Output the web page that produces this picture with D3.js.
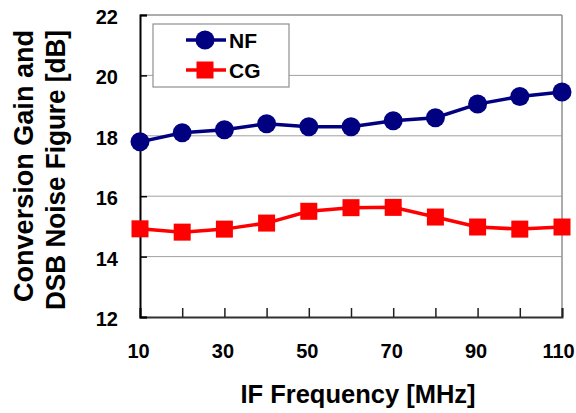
<!DOCTYPE html>
<html>
<head>
<meta charset="utf-8">
<script src="https://cdn.jsdelivr.net/npm/d3@7"></script>
<style>
  body { margin: 0; background: #fff; }
  text { font-family: "Liberation Sans", Arial, sans-serif; font-weight: bold; }
</style>
</head>
<body>
<svg id="chart"></svg>
<script>
let freqs = [10, 20, 30, 40, 50, 60, 70, 80, 90, 100, 110];
let nfValues = [17.8, 18.1, 18.2, 18.4, 18.3, 18.3, 18.5, 18.6, 19.05, 19.3, 19.45];
let cgValues = [14.92, 14.81, 14.91, 15.11, 15.5, 15.62, 15.63, 15.31, 14.98, 14.91, 14.98];
let xTicks = [10, 20, 30, 40, 50, 60, 70, 80, 90, 100, 110];
let xLabels = [10, 30, 50, 70, 90, 110];
let yTicks = [12, 14, 16, 18, 20, 22];

let width = 576, height = 413;
let margin = { top: 15, bottom: 96, left: 140, right: 14 };
let bodyWidth = width - margin.left - margin.right;
let bodyHeight = height - margin.top - margin.bottom;

let svg = d3.select("#chart").attr("width", width).attr("height", height);

let xScale = d3.scaleLinear().domain([10, 110]).range([0, bodyWidth]);
let yScale = d3.scaleLinear().domain([12, 22]).range([bodyHeight, 0]);

let body = svg.append("g")
    .attr("transform", `translate(${margin.left},${margin.top})`);

// gridlines
body.selectAll(".grid")
    .data(yTicks.filter(d => d > 12 && d < 22))
    .enter()
    .append("line")
    .attr("x1", 0).attr("x2", bodyWidth)
    .attr("y1", d => yScale(d)).attr("y2", d => yScale(d))
    .attr("stroke", "#a0a0a0").attr("stroke-width", 1);

// frame top / right
body.append("line").attr("x1", 0).attr("x2", bodyWidth).attr("y1", 0).attr("y2", 0)
    .attr("stroke", "#909090").attr("stroke-width", 1.5);
body.append("line").attr("x1", bodyWidth).attr("x2", bodyWidth).attr("y1", 0).attr("y2", bodyHeight)
    .attr("stroke", "#909090").attr("stroke-width", 1.5);

// x axis, ticks inward
let xAx = d3.axisBottom(xScale).tickValues(xTicks).tickSize(-9)
    .tickFormat(d => xLabels.includes(d) ? d : "").tickPadding(27);
let gx = body.append("g").attr("transform", `translate(0,${bodyHeight})`).call(xAx);
gx.select(".domain").attr("stroke", "#303030").attr("stroke-width", 2);
gx.selectAll(".tick line").attr("stroke", "#202020").attr("stroke-width", 1.5);
gx.selectAll("text").attr("font-size", 20).attr("fill", "#000")
    .attr("dx", d => d === 110 ? -4 : -2);

// y axis, ticks inward
let yAx = d3.axisLeft(yScale).tickValues(yTicks).tickSize(-7).tickPadding(22);
let gy = body.append("g").call(yAx);
gy.select(".domain").attr("stroke", "#000").attr("stroke-width", 2);
gy.selectAll(".tick line").attr("stroke", "#000").attr("stroke-width", 1.5);
gy.selectAll("text").attr("font-size", 20).attr("fill", "#000").attr("dy", "0.42em");

let line = d3.line()
    .x((d, i) => xScale(freqs[i]))
    .y(d => yScale(d));

// NF series
body.append("path").datum(nfValues)
    .attr("d", line).attr("fill", "none")
    .attr("stroke", "#000080").attr("stroke-width", 3.5);
body.selectAll(".nf").data(nfValues).enter()
    .append("circle")
    .attr("cx", (d, i) => xScale(freqs[i]))
    .attr("cy", d => yScale(d))
    .attr("r", 9.5)
    .attr("fill", "#000080");

// CG series
body.append("path").datum(cgValues)
    .attr("d", line).attr("fill", "none")
    .attr("stroke", "#ff0000").attr("stroke-width", 3.5);
let sq = 17;
body.selectAll(".cg").data(cgValues).enter()
    .append("rect")
    .attr("x", (d, i) => xScale(freqs[i]) - sq / 2)
    .attr("y", d => yScale(d) - sq / 2)
    .attr("width", sq).attr("height", sq)
    .attr("fill", "#ff0000");

// legend
let legend = svg.append("g").attr("transform", "translate(153,24)");
legend.append("rect").attr("width", 136).attr("height", 63)
    .attr("fill", "#fff").attr("stroke", "#909090").attr("stroke-width", 1.2);
let items = [
    { name: "NF", color: "#000080", shape: "circle", y: 16 },
    { name: "CG", color: "#ff0000", shape: "rect", y: 46 }
];
items.forEach(it => {
    legend.append("line").attr("x1", 33).attr("x2", 73)
        .attr("y1", it.y).attr("y2", it.y)
        .attr("stroke", it.color).attr("stroke-width", 3.5);
    if (it.shape === "circle") {
        legend.append("circle").attr("cx", 52).attr("cy", it.y).attr("r", 9.5).attr("fill", it.color);
    } else {
        legend.append("rect").attr("x", 52 - sq / 2).attr("y", it.y - sq / 2)
            .attr("width", sq).attr("height", sq).attr("fill", it.color);
    }
    legend.append("text").attr("x", 76).attr("y", it.y + 8)
        .attr("font-size", 21).text(it.name);
});

// axis titles
svg.append("text")
    .attr("x", 358).attr("y", 403)
    .attr("text-anchor", "middle").attr("font-size", 25.5)
    .text("IF Frequency [MHz]");

let yTitle = svg.append("text")
    .attr("transform", "rotate(-90)")
    .attr("text-anchor", "end").attr("font-size", 28);
yTitle.append("tspan").attr("x", -30).attr("y", 33)
    .attr("textLength", 272).attr("lengthAdjust", "spacingAndGlyphs")
    .text("Conversion Gain and");
yTitle.append("tspan").attr("x", -30).attr("y", 65)
    .attr("textLength", 280).attr("lengthAdjust", "spacingAndGlyphs")
    .text("DSB Noise Figure [dB]");
</script>
</body>
</html>
